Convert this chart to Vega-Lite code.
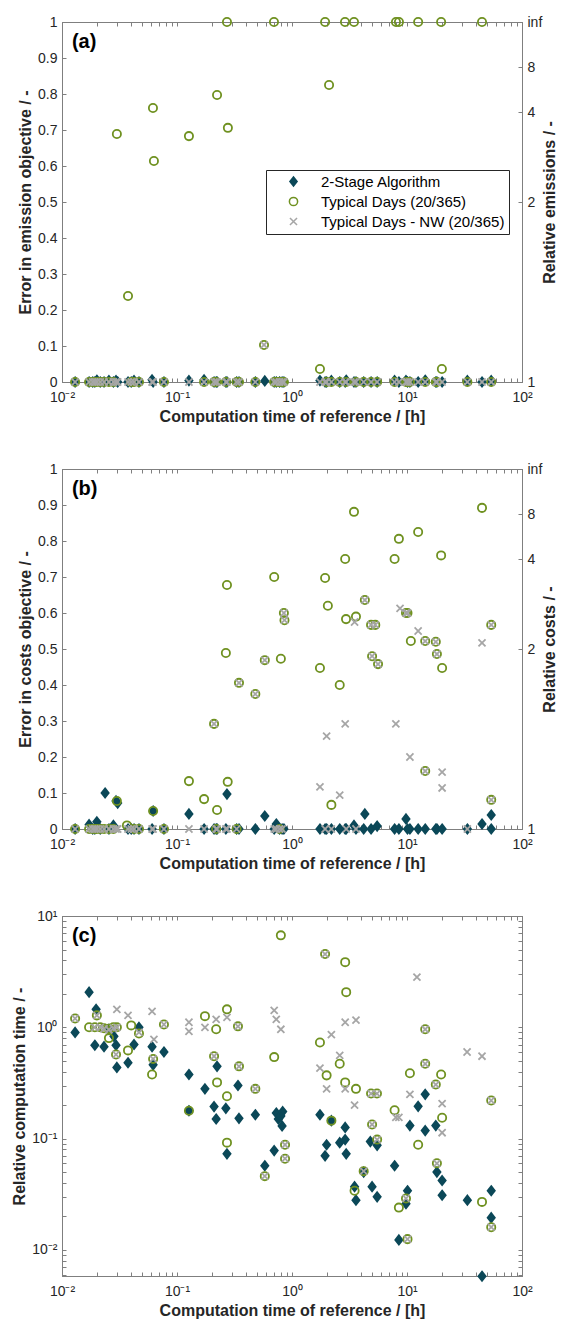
{
"$schema":"https://vega.github.io/schema/vega-lite/v6.json",
"padding":{"left":11,"top":13,"right":5,"bottom":5},
"config":{"font":"Liberation Sans","view":{"stroke":"#7f7f7f"},
"axis":{"grid":false,"domainColor":"#7f7f7f","tickColor":"#7f7f7f","tickSize":-4,"labelPadding":9,"labelFontSize":14,"labelColor":"#262626","titleFontSize":16,"titleFontWeight":"bold","titleColor":"#262626","labelFont":"Liberation Sans","titleFont":"Liberation Sans","labelOverlap":false,"labelFlush":false},
"axisX":{"labelPadding":12,"titlePadding":4}},
"datasets":{
"a":[
{"s":"D","t":0.013,"v":0},{"s":"D","t":0.0172,"v":0},{"s":"D","t":0.0185,"v":0},{"s":"D","t":0.0193,"v":0},{"s":"D","t":0.0201,"v":0.005},{"s":"D","t":0.0215,"v":0},{"s":"D","t":0.0232,"v":0},{"s":"D","t":0.0256,"v":0.004},{"s":"D","t":0.028,"v":0},{"s":"D","t":0.0295,"v":0.004},{"s":"D","t":0.0305,"v":0},{"s":"D","t":0.0375,"v":0},{"s":"D","t":0.04,"v":0},{"s":"D","t":0.0423,"v":0.004},{"s":"D","t":0.0467,"v":0},{"s":"D","t":0.0607,"v":0.006},{"s":"D","t":0.062,"v":0},{"s":"D","t":0.077,"v":0},{"s":"D","t":0.127,"v":0.004},{"s":"D","t":0.172,"v":0.006},{"s":"D","t":0.21,"v":0},{"s":"D","t":0.219,"v":0},{"s":"D","t":0.223,"v":0},{"s":"D","t":0.266,"v":0},{"s":"D","t":0.272,"v":0},{"s":"D","t":0.33,"v":0},{"s":"D","t":0.346,"v":0},{"s":"D","t":0.48,"v":0},{"s":"D","t":0.58,"v":0.003},{"s":"D","t":0.7,"v":0},{"s":"D","t":0.73,"v":0},{"s":"D","t":0.78,"v":0},{"s":"D","t":0.82,"v":0},{"s":"D","t":0.85,"v":0},{"s":"D","t":1.75,"v":0.004},{"s":"D","t":1.94,"v":0},{"s":"D","t":2.0,"v":0},{"s":"D","t":2.2,"v":0.004},{"s":"D","t":2.6,"v":0},{"s":"D","t":2.9,"v":0},{"s":"D","t":2.96,"v":0.005},{"s":"D","t":3.46,"v":0},{"s":"D","t":3.6,"v":0},{"s":"D","t":4.2,"v":0},{"s":"D","t":4.87,"v":0},{"s":"D","t":5.5,"v":0},{"s":"D","t":7.8,"v":0.004},{"s":"D","t":8.5,"v":0},{"s":"D","t":9.8,"v":0.004},{"s":"D","t":10.1,"v":0},{"s":"D","t":10.6,"v":0},{"s":"D","t":12.5,"v":0},{"s":"D","t":14.4,"v":0.005},{"s":"D","t":17.8,"v":0},{"s":"D","t":18.2,"v":0},{"s":"D","t":20.2,"v":0},{"s":"D","t":33.5,"v":0.004},{"s":"D","t":44.9,"v":0},{"s":"D","t":54,"v":0.004},
{"s":"T","t":0.013,"v":0},{"s":"T","t":0.0172,"v":0},{"s":"T","t":0.0185,"v":0},{"s":"T","t":0.0193,"v":0},{"s":"T","t":0.0201,"v":0},{"s":"T","t":0.0215,"v":0},{"s":"T","t":0.0232,"v":0},{"s":"T","t":0.0256,"v":0},{"s":"T","t":0.028,"v":0},{"s":"T","t":0.04,"v":0},{"s":"T","t":0.0423,"v":0},{"s":"T","t":0.0467,"v":0},{"s":"T","t":0.077,"v":0},{"s":"T","t":0.172,"v":0},{"s":"T","t":0.21,"v":0},{"s":"T","t":0.219,"v":0},{"s":"T","t":0.266,"v":0},{"s":"T","t":0.33,"v":0},{"s":"T","t":0.346,"v":0},{"s":"T","t":0.48,"v":0},{"s":"T","t":0.7,"v":0},{"s":"T","t":0.73,"v":0},{"s":"T","t":0.78,"v":0},{"s":"T","t":0.82,"v":0},{"s":"T","t":0.85,"v":0},{"s":"T","t":2.0,"v":0},{"s":"T","t":2.2,"v":0},{"s":"T","t":2.6,"v":0},{"s":"T","t":2.96,"v":0},{"s":"T","t":3.6,"v":0},{"s":"T","t":4.2,"v":0},{"s":"T","t":4.87,"v":0},{"s":"T","t":5.5,"v":0},{"s":"T","t":7.8,"v":0},{"s":"T","t":9.8,"v":0},{"s":"T","t":10.1,"v":0},{"s":"T","t":10.6,"v":0},{"s":"T","t":14.4,"v":0},{"s":"T","t":17.8,"v":0},{"s":"T","t":18.2,"v":0},{"s":"T","t":33.5,"v":0},{"s":"T","t":54,"v":0},
{"s":"T","t":0.03,"v":0.689},{"s":"T","t":0.0618,"v":0.761},{"s":"T","t":0.063,"v":0.614},{"s":"T","t":0.127,"v":0.683},{"s":"T","t":0.223,"v":0.797},{"s":"T","t":0.277,"v":0.706},{"s":"T","t":2.1,"v":0.825},{"s":"T","t":0.0375,"v":0.239},{"s":"T","t":0.571,"v":0.103},{"s":"T","t":1.75,"v":0.036},{"s":"T","t":20.1,"v":0.036},
{"s":"T","t":0.272,"v":1},{"s":"T","t":0.697,"v":1},{"s":"T","t":1.94,"v":1},{"s":"T","t":2.89,"v":1},{"s":"T","t":3.46,"v":1},{"s":"T","t":8.02,"v":1},{"s":"T","t":8.51,"v":1},{"s":"T","t":12.5,"v":1},{"s":"T","t":19.8,"v":1},{"s":"T","t":44.9,"v":1},
{"s":"N","t":0.013,"v":0},{"s":"N","t":0.0172,"v":0},{"s":"N","t":0.0185,"v":0},{"s":"N","t":0.0193,"v":0},{"s":"N","t":0.0201,"v":0},{"s":"N","t":0.0215,"v":0},{"s":"N","t":0.0232,"v":0},{"s":"N","t":0.0256,"v":0},{"s":"N","t":0.028,"v":0},{"s":"N","t":0.0295,"v":0},{"s":"N","t":0.0305,"v":0},{"s":"N","t":0.0375,"v":0},{"s":"N","t":0.04,"v":0},{"s":"N","t":0.0423,"v":0},{"s":"N","t":0.0467,"v":0},{"s":"N","t":0.0607,"v":0},{"s":"N","t":0.062,"v":0},{"s":"N","t":0.077,"v":0},{"s":"N","t":0.127,"v":0},{"s":"N","t":0.172,"v":0},{"s":"N","t":0.21,"v":0},{"s":"N","t":0.219,"v":0},{"s":"N","t":0.223,"v":0},{"s":"N","t":0.266,"v":0},{"s":"N","t":0.272,"v":0},{"s":"N","t":0.33,"v":0},{"s":"N","t":0.346,"v":0},{"s":"N","t":0.48,"v":0},{"s":"N","t":0.571,"v":0.103},{"s":"N","t":0.7,"v":0},{"s":"N","t":0.73,"v":0},{"s":"N","t":0.78,"v":0},{"s":"N","t":0.82,"v":0},{"s":"N","t":0.85,"v":0},{"s":"N","t":1.75,"v":0},{"s":"N","t":1.94,"v":0},{"s":"N","t":2.0,"v":0},{"s":"N","t":2.2,"v":0},{"s":"N","t":2.6,"v":0},{"s":"N","t":2.9,"v":0},{"s":"N","t":2.96,"v":0},{"s":"N","t":3.46,"v":0},{"s":"N","t":3.6,"v":0},{"s":"N","t":4.2,"v":0},{"s":"N","t":4.87,"v":0},{"s":"N","t":5.5,"v":0},{"s":"N","t":7.8,"v":0},{"s":"N","t":8.5,"v":0},{"s":"N","t":9.8,"v":0},{"s":"N","t":10.1,"v":0},{"s":"N","t":10.6,"v":0},{"s":"N","t":12.5,"v":0},{"s":"N","t":14.4,"v":0},{"s":"N","t":17.8,"v":0},{"s":"N","t":18.2,"v":0},{"s":"N","t":20.2,"v":0},{"s":"N","t":33.5,"v":0},{"s":"N","t":44.9,"v":0},{"s":"N","t":54,"v":0}
],
"b":[
{"s":"D","t":0.013,"v":0},{"s":"D","t":0.0172,"v":0.012},{"s":"D","t":0.0185,"v":0},{"s":"D","t":0.0193,"v":0},{"s":"D","t":0.0201,"v":0.02},{"s":"D","t":0.0215,"v":0},{"s":"D","t":0.0237,"v":0.1},{"s":"D","t":0.0256,"v":0},{"s":"D","t":0.028,"v":0.01},{"s":"D","t":0.0295,"v":0.078},{"s":"D","t":0.0305,"v":0.072},{"s":"D","t":0.0375,"v":0},{"s":"D","t":0.04,"v":0},{"s":"D","t":0.0423,"v":0},{"s":"D","t":0.0467,"v":0},{"s":"D","t":0.0607,"v":0},{"s":"D","t":0.062,"v":0.05},{"s":"D","t":0.077,"v":0},{"s":"D","t":0.127,"v":0.042},{"s":"D","t":0.172,"v":0},{"s":"D","t":0.21,"v":0},{"s":"D","t":0.219,"v":0},{"s":"D","t":0.223,"v":0},{"s":"D","t":0.266,"v":0},{"s":"D","t":0.272,"v":0.097},{"s":"D","t":0.33,"v":0},{"s":"D","t":0.346,"v":0},{"s":"D","t":0.48,"v":0},{"s":"D","t":0.58,"v":0.036},{"s":"D","t":0.7,"v":0},{"s":"D","t":0.73,"v":0.014},{"s":"D","t":0.78,"v":0},{"s":"D","t":0.82,"v":0},{"s":"D","t":0.85,"v":0},{"s":"D","t":1.75,"v":0},{"s":"D","t":1.94,"v":0},{"s":"D","t":2.0,"v":0},{"s":"D","t":2.2,"v":0},{"s":"D","t":2.6,"v":0},{"s":"D","t":2.9,"v":0},{"s":"D","t":2.96,"v":0},{"s":"D","t":3.46,"v":0.01},{"s":"D","t":3.6,"v":0},{"s":"D","t":4.2,"v":0},{"s":"D","t":4.3,"v":0.042},{"s":"D","t":4.87,"v":0},{"s":"D","t":5.5,"v":0.008},{"s":"D","t":7.8,"v":0},{"s":"D","t":8.5,"v":0},{"s":"D","t":9.8,"v":0.028},{"s":"D","t":10.1,"v":0},{"s":"D","t":10.6,"v":0},{"s":"D","t":12.5,"v":0},{"s":"D","t":14.4,"v":0},{"s":"D","t":17.8,"v":0},{"s":"D","t":18.2,"v":0},{"s":"D","t":20.2,"v":0},{"s":"D","t":33.5,"v":0},{"s":"D","t":44.9,"v":0.014},{"s":"D","t":54,"v":0.039},{"s":"D","t":54,"v":0},
{"s":"T","t":0.013,"v":0},{"s":"T","t":0.0172,"v":0},{"s":"T","t":0.0185,"v":0},{"s":"T","t":0.0193,"v":0},{"s":"T","t":0.0201,"v":0},{"s":"T","t":0.0215,"v":0},{"s":"T","t":0.0232,"v":0},{"s":"T","t":0.0256,"v":0},{"s":"T","t":0.028,"v":0},{"s":"T","t":0.0367,"v":0.01},{"s":"T","t":0.0423,"v":0},{"s":"T","t":0.0467,"v":0},{"s":"T","t":0.077,"v":0},{"s":"T","t":0.219,"v":0},{"s":"T","t":0.33,"v":0},{"s":"T","t":0.78,"v":0},
{"s":"T","t":0.03,"v":0.078},{"s":"T","t":0.062,"v":0.05},{"s":"T","t":0.127,"v":0.133},{"s":"T","t":0.172,"v":0.083},{"s":"T","t":0.21,"v":0.292},{"s":"T","t":0.223,"v":0.053},{"s":"T","t":0.266,"v":0.489},{"s":"T","t":0.272,"v":0.678},{"s":"T","t":0.276,"v":0.131},{"s":"T","t":0.346,"v":0.406},{"s":"T","t":0.48,"v":0.375},{"s":"T","t":0.58,"v":0.469},{"s":"T","t":0.7,"v":0.7},{"s":"T","t":0.8,"v":0.473},{"s":"T","t":0.85,"v":0.6},{"s":"T","t":0.86,"v":0.58},{"s":"T","t":1.75,"v":0.447},{"s":"T","t":1.94,"v":0.697},{"s":"T","t":2.05,"v":0.62},{"s":"T","t":2.2,"v":0.067},{"s":"T","t":2.6,"v":0.4},{"s":"T","t":2.9,"v":0.75},{"s":"T","t":2.95,"v":0.583},{"s":"T","t":3.46,"v":0.881},{"s":"T","t":3.6,"v":0.59},{"s":"T","t":4.3,"v":0.636},{"s":"T","t":4.87,"v":0.567},{"s":"T","t":5.3,"v":0.567},{"s":"T","t":4.97,"v":0.48},{"s":"T","t":5.6,"v":0.458},{"s":"T","t":7.8,"v":0.75},{"s":"T","t":8.5,"v":0.806},{"s":"T","t":9.8,"v":0.6},{"s":"T","t":10.1,"v":0.6},{"s":"T","t":10.8,"v":0.522},{"s":"T","t":12.5,"v":0.825},{"s":"T","t":14.4,"v":0.522},{"s":"T","t":14.4,"v":0.161},{"s":"T","t":17.8,"v":0.52},{"s":"T","t":18.2,"v":0.486},{"s":"T","t":19.8,"v":0.76},{"s":"T","t":20.2,"v":0.447},{"s":"T","t":44.9,"v":0.892},{"s":"T","t":54,"v":0.567},{"s":"T","t":54,"v":0.081},
{"s":"N","t":0.21,"v":0.292},{"s":"N","t":0.346,"v":0.406},{"s":"N","t":0.48,"v":0.375},{"s":"N","t":0.58,"v":0.469},{"s":"N","t":0.85,"v":0.6},{"s":"N","t":0.86,"v":0.58},{"s":"N","t":4.3,"v":0.636},{"s":"N","t":4.87,"v":0.567},{"s":"N","t":5.3,"v":0.567},{"s":"N","t":4.97,"v":0.48},{"s":"N","t":5.6,"v":0.458},{"s":"N","t":9.8,"v":0.6},{"s":"N","t":10.1,"v":0.6},{"s":"N","t":14.4,"v":0.522},{"s":"N","t":14.4,"v":0.161},{"s":"N","t":17.8,"v":0.52},{"s":"N","t":18.2,"v":0.486},{"s":"N","t":54,"v":0.567},{"s":"N","t":54,"v":0.081},{"s":"N","t":8.7,"v":0.613},{"s":"N","t":12.5,"v":0.55},{"s":"N","t":3.5,"v":0.575},{"s":"N","t":44.9,"v":0.517},{"s":"N","t":2.9,"v":0.292},{"s":"N","t":8.0,"v":0.292},{"s":"N","t":10.6,"v":0.2},{"s":"N","t":20.2,"v":0.158},{"s":"N","t":20.2,"v":0.114},{"s":"N","t":2.6,"v":0.094},{"s":"N","t":2.0,"v":0.258},{"s":"N","t":1.75,"v":0.117},
{"s":"N","t":0.013,"v":0},{"s":"N","t":0.0172,"v":0},{"s":"N","t":0.0185,"v":0},{"s":"N","t":0.0193,"v":0},{"s":"N","t":0.0201,"v":0},{"s":"N","t":0.0215,"v":0},{"s":"N","t":0.0232,"v":0},{"s":"N","t":0.0256,"v":0},{"s":"N","t":0.028,"v":0},{"s":"N","t":0.0295,"v":0},{"s":"N","t":0.0305,"v":0},{"s":"N","t":0.0375,"v":0},{"s":"N","t":0.04,"v":0},{"s":"N","t":0.0423,"v":0},{"s":"N","t":0.0467,"v":0},{"s":"N","t":0.0607,"v":0},{"s":"N","t":0.062,"v":0},{"s":"N","t":0.077,"v":0},{"s":"N","t":0.127,"v":0},{"s":"N","t":0.172,"v":0},{"s":"N","t":0.219,"v":0},{"s":"N","t":0.223,"v":0},{"s":"N","t":0.266,"v":0},{"s":"N","t":0.272,"v":0},{"s":"N","t":0.33,"v":0},{"s":"N","t":0.7,"v":0},{"s":"N","t":0.73,"v":0},{"s":"N","t":0.78,"v":0},{"s":"N","t":0.82,"v":0},{"s":"N","t":1.94,"v":0},{"s":"N","t":2.2,"v":0},{"s":"N","t":2.96,"v":0},{"s":"N","t":3.6,"v":0},{"s":"N","t":33.5,"v":0}
],
"c":[
{"s":"D","t":0.013,"v":0.9},{"s":"D","t":0.0172,"v":2.07},{"s":"D","t":0.0193,"v":0.69},{"s":"D","t":0.0198,"v":1.45},{"s":"D","t":0.0232,"v":0.67},{"s":"D","t":0.0256,"v":0.96},{"s":"D","t":0.0283,"v":0.83},{"s":"D","t":0.0295,"v":0.69},{"s":"D","t":0.03,"v":0.436},{"s":"D","t":0.0375,"v":0.48},{"s":"D","t":0.0423,"v":0.7},{"s":"D","t":0.0467,"v":1.0},{"s":"D","t":0.0607,"v":0.67},{"s":"D","t":0.062,"v":0.46},{"s":"D","t":0.077,"v":0.6},{"s":"D","t":0.127,"v":0.377},{"s":"D","t":0.127,"v":0.178},{"s":"D","t":0.175,"v":0.28},{"s":"D","t":0.21,"v":0.194},{"s":"D","t":0.219,"v":0.15},{"s":"D","t":0.223,"v":0.446},{"s":"D","t":0.266,"v":0.187},{"s":"D","t":0.272,"v":0.073},{"s":"D","t":0.339,"v":0.3},{"s":"D","t":0.346,"v":0.152},{"s":"D","t":0.48,"v":0.164},{"s":"D","t":0.58,"v":0.057},{"s":"D","t":0.7,"v":0.078},{"s":"D","t":0.73,"v":0.17},{"s":"D","t":0.76,"v":0.15},{"s":"D","t":0.8,"v":0.16},{"s":"D","t":0.83,"v":0.175},{"s":"D","t":0.82,"v":0.13},{"s":"D","t":1.75,"v":0.164},{"s":"D","t":1.94,"v":0.07},{"s":"D","t":2.0,"v":0.088},{"s":"D","t":2.2,"v":0.145},{"s":"D","t":2.6,"v":0.092},{"s":"D","t":2.9,"v":0.098},{"s":"D","t":2.9,"v":0.126},{"s":"D","t":2.96,"v":0.073},{"s":"D","t":3.5,"v":0.037},{"s":"D","t":3.6,"v":0.028},{"s":"D","t":4.2,"v":0.05},{"s":"D","t":4.8,"v":0.094},{"s":"D","t":4.97,"v":0.037},{"s":"D","t":5.5,"v":0.087},{"s":"D","t":5.5,"v":0.03},{"s":"D","t":7.8,"v":0.057},{"s":"D","t":8.5,"v":0.0123},{"s":"D","t":9.8,"v":0.026},{"s":"D","t":10.1,"v":0.034},{"s":"D","t":10.6,"v":0.131},{"s":"D","t":12.5,"v":0.195},{"s":"D","t":14.4,"v":0.25},{"s":"D","t":14.4,"v":0.118},{"s":"D","t":17.8,"v":0.131},{"s":"D","t":18.2,"v":0.05},{"s":"D","t":20.2,"v":0.042},{"s":"D","t":20.2,"v":0.031},{"s":"D","t":33.5,"v":0.028},{"s":"D","t":44.9,"v":0.0058},{"s":"D","t":54,"v":0.034},{"s":"D","t":54,"v":0.0195},
{"s":"T","t":0.013,"v":1.2},{"s":"T","t":0.0172,"v":1.0},{"s":"T","t":0.0193,"v":1.0},{"s":"T","t":0.0201,"v":1.28},{"s":"T","t":0.0215,"v":1.0},{"s":"T","t":0.0232,"v":0.98},{"s":"T","t":0.0256,"v":0.97},{"s":"T","t":0.0256,"v":0.8},{"s":"T","t":0.028,"v":1.0},{"s":"T","t":0.03,"v":1.0},{"s":"T","t":0.0295,"v":0.57},{"s":"T","t":0.0375,"v":0.62},{"s":"T","t":0.04,"v":1.04},{"s":"T","t":0.0467,"v":0.88},{"s":"T","t":0.062,"v":0.52},{"s":"T","t":0.0607,"v":0.377},{"s":"T","t":0.077,"v":1.06},{"s":"T","t":0.127,"v":0.178},{"s":"T","t":0.175,"v":1.26},{"s":"T","t":0.21,"v":0.55},{"s":"T","t":0.219,"v":0.96},{"s":"T","t":0.223,"v":0.32},{"s":"T","t":0.272,"v":1.45},{"s":"T","t":0.272,"v":0.24},{"s":"T","t":0.272,"v":0.092},{"s":"T","t":0.339,"v":1.02},{"s":"T","t":0.346,"v":0.446},{"s":"T","t":0.48,"v":0.28},{"s":"T","t":0.58,"v":0.046},{"s":"T","t":0.7,"v":0.54},{"s":"T","t":0.8,"v":6.7},{"s":"T","t":0.87,"v":0.088},{"s":"T","t":0.87,"v":0.066},{"s":"T","t":1.75,"v":0.73},{"s":"T","t":1.94,"v":4.55},{"s":"T","t":2.0,"v":0.37},{"s":"T","t":2.2,"v":0.145},{"s":"T","t":2.6,"v":0.47},{"s":"T","t":2.9,"v":3.85},{"s":"T","t":2.9,"v":0.32},{"s":"T","t":2.96,"v":2.07},{"s":"T","t":3.5,"v":0.034},{"s":"T","t":3.6,"v":0.28},{"s":"T","t":4.2,"v":0.051},{"s":"T","t":4.87,"v":0.254},{"s":"T","t":4.97,"v":0.134},{"s":"T","t":5.48,"v":0.254},{"s":"T","t":5.5,"v":0.098},{"s":"T","t":7.8,"v":0.18},{"s":"T","t":8.5,"v":0.024},{"s":"T","t":9.8,"v":0.029},{"s":"T","t":10.1,"v":0.0125},{"s":"T","t":10.6,"v":0.386},{"s":"T","t":12.5,"v":0.088},{"s":"T","t":14.4,"v":0.96},{"s":"T","t":14.4,"v":0.47},{"s":"T","t":17.8,"v":0.306},{"s":"T","t":18.2,"v":0.06},{"s":"T","t":19.8,"v":0.377},{"s":"T","t":20.2,"v":0.154},{"s":"T","t":44.9,"v":0.027},{"s":"T","t":54,"v":0.22},{"s":"T","t":54,"v":0.016},
{"s":"N","t":0.013,"v":1.2},{"s":"N","t":0.0193,"v":1.0},{"s":"N","t":0.0201,"v":1.28},{"s":"N","t":0.0215,"v":1.0},{"s":"N","t":0.0232,"v":0.97},{"s":"N","t":0.0256,"v":0.95},{"s":"N","t":0.028,"v":0.98},{"s":"N","t":0.03,"v":1.0},{"s":"N","t":0.03,"v":1.45},{"s":"N","t":0.0295,"v":0.57},{"s":"N","t":0.0375,"v":1.28},{"s":"N","t":0.0467,"v":0.9},{"s":"N","t":0.0607,"v":1.39},{"s":"N","t":0.062,"v":0.52},{"s":"N","t":0.063,"v":0.78},{"s":"N","t":0.077,"v":1.06},{"s":"N","t":0.127,"v":1.11},{"s":"N","t":0.127,"v":0.92},{"s":"N","t":0.175,"v":1.0},{"s":"N","t":0.21,"v":0.55},{"s":"N","t":0.219,"v":1.18},{"s":"N","t":0.272,"v":1.23},{"s":"N","t":0.339,"v":1.02},{"s":"N","t":0.346,"v":0.446},{"s":"N","t":0.48,"v":0.28},{"s":"N","t":0.58,"v":0.046},{"s":"N","t":0.7,"v":1.42},{"s":"N","t":0.73,"v":1.18},{"s":"N","t":0.8,"v":0.96},{"s":"N","t":0.87,"v":0.088},{"s":"N","t":0.87,"v":0.066},{"s":"N","t":1.75,"v":0.43},{"s":"N","t":1.94,"v":4.55},{"s":"N","t":2.0,"v":0.28},{"s":"N","t":2.2,"v":0.86},{"s":"N","t":2.6,"v":0.56},{"s":"N","t":2.9,"v":1.11},{"s":"N","t":2.9,"v":0.28},{"s":"N","t":3.5,"v":0.2},{"s":"N","t":3.6,"v":1.16},{"s":"N","t":4.2,"v":0.051},{"s":"N","t":4.87,"v":0.254},{"s":"N","t":4.97,"v":0.134},{"s":"N","t":5.48,"v":0.254},{"s":"N","t":5.5,"v":0.098},{"s":"N","t":8.0,"v":0.155},{"s":"N","t":8.5,"v":0.155},{"s":"N","t":9.8,"v":0.029},{"s":"N","t":10.1,"v":0.0125},{"s":"N","t":10.6,"v":0.25},{"s":"N","t":12.2,"v":2.82},{"s":"N","t":14.4,"v":0.96},{"s":"N","t":14.4,"v":0.47},{"s":"N","t":17.8,"v":0.306},{"s":"N","t":18.2,"v":0.06},{"s":"N","t":20.2,"v":0.206},{"s":"N","t":20.2,"v":0.113},{"s":"N","t":33.3,"v":0.6},{"s":"N","t":44.9,"v":0.55},{"s":"N","t":54,"v":0.22},{"s":"N","t":54,"v":0.016}
]},
"vconcat":[
{"width":460,"height":360,
"layer":[
{"data":{"name":"a"},"mark":{"type":"point","opacity":1,"strokeWidth":1.8,"filled":false},
"encoding":{
"x":{"field":"t","type":"quantitative","scale":{"type":"log","domain":[0.01,100],"nice":false},"axis":{"title":"Computation time of reference / [h]","values":[0.01,0.02,0.03,0.04,0.05,0.06,0.07,0.08,0.09,0.1,0.2,0.3,0.4,0.5,0.6,0.7,0.8,0.9,1,2,3,4,5,6,7,8,9,10,20,30,40,50,60,70,80,90,100],"labelExpr":"datum.value===0.01?'10⁻²':datum.value===0.1?'10⁻¹':datum.value===1?'10⁰':datum.value===10?'10¹':datum.value===100?'10²':''"}},
"y":{"field":"v","type":"quantitative","scale":{"domain":[0,1],"nice":false,"zero":false},"axis":{"title":"Error in emission objective / -","values":[0,0.1,0.2,0.3,0.4,0.5,0.6,0.7,0.8,0.9,1],"format":"~g"}},
"shape":{"field":"s","type":"nominal","scale":{"domain":["D","T","N"],"range":["M0,-1L0.78,0L0,1L-0.78,0Z","circle","M-1,-1L1,1M-1,1L1,-1"]},"legend":{"title":null,"orient":"none","legendX":204,"legendY":148,"labelExpr":"datum.label==='D'?'2-Stage Algorithm':datum.label==='T'?'Typical Days (20/365)':'Typical Days - NW (20/365)'","strokeColor":"#262626","fillColor":"white","padding":4,"symbolOffset":16,"rowPadding":4,"labelOffset":20,"labelFontSize":15,"labelColor":"#000000","labelLimit":300}},
"fill":{"field":"s","type":"nominal","scale":{"domain":["D","T","N"],"range":["#0b4858","transparent","transparent"]},"legend":{"title":null,"orient":"none","legendX":204,"legendY":148,"labelExpr":"datum.label==='D'?'2-Stage Algorithm':datum.label==='T'?'Typical Days (20/365)':'Typical Days - NW (20/365)'","strokeColor":"#262626","fillColor":"white","padding":4,"symbolOffset":16,"rowPadding":4,"labelOffset":20,"labelFontSize":15,"labelColor":"#000000","labelLimit":300}},
"stroke":{"field":"s","type":"nominal","scale":{"domain":["D","T","N"],"range":["#0b4858","#6f9120","#a6a6a6"]},"legend":{"title":null,"orient":"none","legendX":204,"legendY":148,"labelExpr":"datum.label==='D'?'2-Stage Algorithm':datum.label==='T'?'Typical Days (20/365)':'Typical Days - NW (20/365)'","strokeColor":"#262626","fillColor":"white","padding":4,"symbolOffset":16,"rowPadding":4,"labelOffset":20,"labelFontSize":15,"labelColor":"#000000","labelLimit":300}},
"size":{"field":"s","type":"nominal","scale":{"domain":["D","T","N"],"range":[85,50,36]},"legend":{"title":null,"orient":"none","legendX":204,"legendY":148,"labelExpr":"datum.label==='D'?'2-Stage Algorithm':datum.label==='T'?'Typical Days (20/365)':'Typical Days - NW (20/365)'","strokeColor":"#262626","fillColor":"white","padding":4,"symbolOffset":16,"rowPadding":4,"labelOffset":20,"labelFontSize":15,"labelColor":"#000000","labelLimit":300}}
}},
{"data":{"name":"a"},"mark":{"type":"point","opacity":0},
"encoding":{
"x":{"field":"t","type":"quantitative","scale":{"type":"log","domain":[0.01,100],"nice":false},"axis":{"orient":"top","labels":false,"title":null,"values":[0.01,0.02,0.03,0.04,0.05,0.06,0.07,0.08,0.09,0.1,0.2,0.3,0.4,0.5,0.6,0.7,0.8,0.9,1,2,3,4,5,6,7,8,9,10,20,30,40,50,60,70,80,90,100]}},
"y":{"field":"v","type":"quantitative","scale":{"domain":[0,1],"nice":false,"zero":false},"axis":{"orient":"right","values":[0,0.5,0.75,0.875,1],"labelExpr":"datum.value===0?'1':datum.value===0.5?'2':datum.value===0.75?'4':datum.value===0.875?'8':'inf'","title":"Relative emissions / -","titleAngle":270,"titleX":35,"titleY":180}}
}},
{"data":{"values":[{"label":"(a)"}]},"mark":{"type":"text","fontSize":20,"fontWeight":"bold","align":"left","baseline":"top","color":"#000000","font":"Liberation Sans"},
"encoding":{"x":{"datum":0.0122,"type":"quantitative","axis":null},"y":{"datum":0.972,"type":"quantitative","axis":null},"text":{"field":"label","type":"nominal"}}}
],
"resolve":{"axis":{"x":"independent","y":"independent"}}
},
{"width":460,"height":360,
"layer":[
{"data":{"name":"b"},"mark":{"type":"point","opacity":1,"strokeWidth":1.8,"filled":false},
"encoding":{
"x":{"field":"t","type":"quantitative","scale":{"type":"log","domain":[0.01,100],"nice":false},"axis":{"title":"Computation time of reference / [h]","values":[0.01,0.02,0.03,0.04,0.05,0.06,0.07,0.08,0.09,0.1,0.2,0.3,0.4,0.5,0.6,0.7,0.8,0.9,1,2,3,4,5,6,7,8,9,10,20,30,40,50,60,70,80,90,100],"labelExpr":"datum.value===0.01?'10⁻²':datum.value===0.1?'10⁻¹':datum.value===1?'10⁰':datum.value===10?'10¹':datum.value===100?'10²':''"}},
"y":{"field":"v","type":"quantitative","scale":{"domain":[0,1],"nice":false,"zero":false},"axis":{"title":"Error in costs objective / -","values":[0,0.1,0.2,0.3,0.4,0.5,0.6,0.7,0.8,0.9,1],"format":"~g"}},
"shape":{"field":"s","type":"nominal","scale":{"domain":["D","T","N"],"range":["M0,-1L0.78,0L0,1L-0.78,0Z","circle","M-1,-1L1,1M-1,1L1,-1"]},"legend":null},
"fill":{"field":"s","type":"nominal","scale":{"domain":["D","T","N"],"range":["#0b4858","transparent","transparent"]},"legend":null},
"stroke":{"field":"s","type":"nominal","scale":{"domain":["D","T","N"],"range":["#0b4858","#6f9120","#a6a6a6"]},"legend":null},
"size":{"field":"s","type":"nominal","scale":{"domain":["D","T","N"],"range":[85,50,36]},"legend":null}
}},
{"data":{"name":"b"},"mark":{"type":"point","opacity":0},
"encoding":{
"x":{"field":"t","type":"quantitative","scale":{"type":"log","domain":[0.01,100],"nice":false},"axis":{"orient":"top","labels":false,"title":null,"values":[0.01,0.02,0.03,0.04,0.05,0.06,0.07,0.08,0.09,0.1,0.2,0.3,0.4,0.5,0.6,0.7,0.8,0.9,1,2,3,4,5,6,7,8,9,10,20,30,40,50,60,70,80,90,100]}},
"y":{"field":"v","type":"quantitative","scale":{"domain":[0,1],"nice":false,"zero":false},"axis":{"orient":"right","values":[0,0.5,0.75,0.875,1],"labelExpr":"datum.value===0?'1':datum.value===0.5?'2':datum.value===0.75?'4':datum.value===0.875?'8':'inf'","title":"Relative costs / -","titleAngle":270,"titleX":35,"titleY":180}}
}},
{"data":{"values":[{"label":"(b)"}]},"mark":{"type":"text","fontSize":20,"fontWeight":"bold","align":"left","baseline":"top","color":"#000000","font":"Liberation Sans"},
"encoding":{"x":{"datum":0.0122,"type":"quantitative","axis":null},"y":{"datum":0.972,"type":"quantitative","axis":null},"text":{"field":"label","type":"nominal"}}}
],
"resolve":{"axis":{"x":"independent","y":"independent"}}
},
{"width":460,"height":360,
"layer":[
{"data":{"name":"c"},"mark":{"type":"point","opacity":1,"strokeWidth":1.8,"filled":false},
"encoding":{
"x":{"field":"t","type":"quantitative","scale":{"type":"log","domain":[0.01,100],"nice":false},"axis":{"title":"Computation time of reference / [h]","values":[0.01,0.02,0.03,0.04,0.05,0.06,0.07,0.08,0.09,0.1,0.2,0.3,0.4,0.5,0.6,0.7,0.8,0.9,1,2,3,4,5,6,7,8,9,10,20,30,40,50,60,70,80,90,100],"labelExpr":"datum.value===0.01?'10⁻²':datum.value===0.1?'10⁻¹':datum.value===1?'10⁰':datum.value===10?'10¹':datum.value===100?'10²':''"}},
"y":{"field":"v","type":"quantitative","scale":{"type":"log","domain":[0.00583,10],"nice":false},"axis":{"title":"Relative computation time / -","values":[0.006,0.007,0.008,0.009,0.01,0.02,0.03,0.04,0.05,0.06,0.07,0.08,0.09,0.1,0.2,0.3,0.4,0.5,0.6,0.7,0.8,0.9,1,2,3,4,5,6,7,8,9,10],"labelExpr":"datum.value===0.01?'10⁻²':datum.value===0.1?'10⁻¹':datum.value===1?'10⁰':datum.value===10?'10¹':''"}},
"shape":{"field":"s","type":"nominal","scale":{"domain":["D","T","N"],"range":["M0,-1L0.78,0L0,1L-0.78,0Z","circle","M-1,-1L1,1M-1,1L1,-1"]},"legend":null},
"fill":{"field":"s","type":"nominal","scale":{"domain":["D","T","N"],"range":["#0b4858","transparent","transparent"]},"legend":null},
"stroke":{"field":"s","type":"nominal","scale":{"domain":["D","T","N"],"range":["#0b4858","#6f9120","#a6a6a6"]},"legend":null},
"size":{"field":"s","type":"nominal","scale":{"domain":["D","T","N"],"range":[85,50,36]},"legend":null}
}},
{"data":{"name":"c"},"mark":{"type":"point","opacity":0},
"encoding":{
"x":{"field":"t","type":"quantitative","scale":{"type":"log","domain":[0.01,100],"nice":false},"axis":{"orient":"top","labels":false,"title":null,"values":[0.01,0.02,0.03,0.04,0.05,0.06,0.07,0.08,0.09,0.1,0.2,0.3,0.4,0.5,0.6,0.7,0.8,0.9,1,2,3,4,5,6,7,8,9,10,20,30,40,50,60,70,80,90,100]}},
"y":{"field":"v","type":"quantitative","scale":{"type":"log","domain":[0.00583,10],"nice":false},"axis":{"orient":"right","labels":false,"title":null,"values":[0.006,0.007,0.008,0.009,0.01,0.02,0.03,0.04,0.05,0.06,0.07,0.08,0.09,0.1,0.2,0.3,0.4,0.5,0.6,0.7,0.8,0.9,1,2,3,4,5,6,7,8,9,10]}}
}},
{"data":{"values":[{"label":"(c)"}]},"mark":{"type":"text","fontSize":20,"fontWeight":"bold","align":"left","baseline":"top","color":"#000000","font":"Liberation Sans"},
"encoding":{"x":{"datum":0.0122,"type":"quantitative","axis":null},"y":{"datum":8.1,"type":"quantitative","axis":null},"text":{"field":"label","type":"nominal"}}}
],
"resolve":{"axis":{"x":"independent","y":"independent"}}
}
],
"spacing":87,
"bounds":"flush",
"resolve":{"scale":{"x":"independent","y":"independent","shape":"independent","fill":"independent","stroke":"independent","size":"independent"},"legend":{"shape":"independent","fill":"independent","stroke":"independent","size":"independent"}}
}
